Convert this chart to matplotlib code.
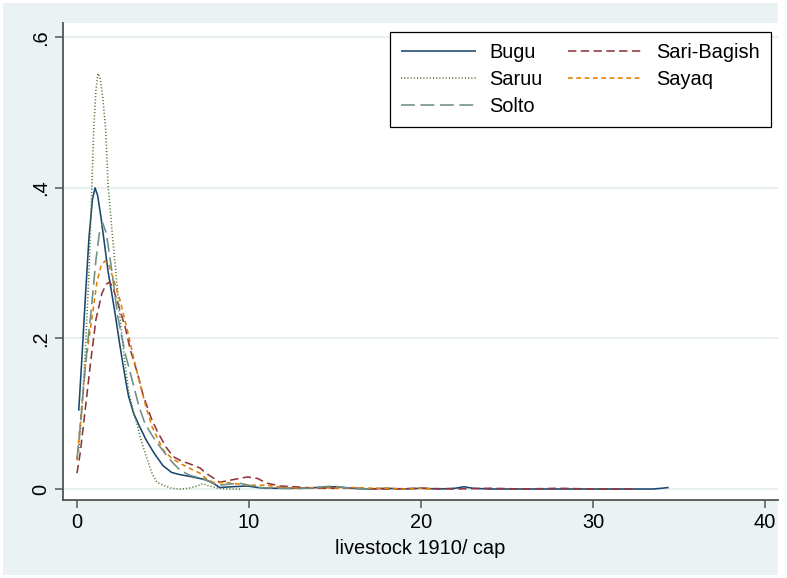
import matplotlib
matplotlib.use("Agg")
import matplotlib.pyplot as plt
from matplotlib.ticker import FixedLocator

plt.rcParams['font.family'] = ['Liberation Sans', 'DejaVu Sans']
plt.rcParams['lines.scale_dashes'] = False

# Kernel density estimates of livestock per capita (1910), by tribe
bugu_x = [0.1, 0.3, 0.5, 0.7, 0.9, 1.05, 1.2, 1.4, 1.6, 1.8, 2.0, 2.2, 2.5, 2.8, 3.0, 3.3,
          3.6, 4.0, 4.5, 5.0, 5.5, 6.0, 6.5, 7.15, 7.5, 7.9, 8.3, 9.0, 9.9, 10.5, 11, 12,
          13, 14, 15, 16, 17, 18, 19, 20, 21, 22, 22.5, 23, 24, 26, 28, 30, 32, 33.5, 34.0, 34.4]
bugu_y = [0.104, 0.18, 0.26, 0.335, 0.385, 0.40, 0.39, 0.36, 0.325, 0.29, 0.263, 0.235, 0.19,
          0.148, 0.123, 0.10, 0.085, 0.066, 0.047, 0.031, 0.022, 0.019, 0.017, 0.014, 0.012,
          0.008, 0.002, 0.003, 0.004, 0.002, 0.001, 0.001, 0.001, 0.002, 0.003, 0.001, 0.000,
          0.001, 0.000, 0.001, 0.000, 0.001, 0.003, 0.001, 0.000, 0.000, 0.000, 0.000, 0.000,
          0.000, 0.001, 0.002]

sari_x = [0.0, 0.2, 0.4, 0.6, 0.8, 1.1, 1.45, 1.7, 1.9, 2.1, 2.4, 2.8, 3.1, 3.5, 3.84, 4.3,
          4.7, 5.2, 5.6, 6.0, 6.6, 7.15, 7.5, 8.3, 9.2, 9.9, 10.5, 11, 11.8, 12.6, 14, 16,
          18, 20, 22, 24, 26, 28, 30, 32.4]
sari_y = [0.021, 0.05, 0.09, 0.13, 0.17, 0.225, 0.26, 0.272, 0.275, 0.267, 0.245, 0.215,
          0.185, 0.155, 0.125, 0.095, 0.075, 0.055, 0.043, 0.038, 0.033, 0.028, 0.021, 0.009,
          0.013, 0.016, 0.014, 0.008, 0.004, 0.003, 0.001, 0.001, 0.000, 0.001, 0.000, 0.001,
          0.000, 0.001, 0.000, 0.000]

saruu_x = [0.1, 0.3, 0.5, 0.7, 0.87, 0.97, 1.1, 1.22, 1.35, 1.5, 1.67, 1.8, 2.03, 2.25, 2.5,
           2.75, 3.0, 3.25, 3.5, 3.75, 4.0, 4.36, 4.65, 5.0, 5.5, 6.0, 6.5, 7.0, 7.3, 7.7,
           8.2, 8.8, 9.5]
saruu_y = [0.05, 0.11, 0.19, 0.29, 0.406, 0.477, 0.53, 0.552, 0.545, 0.52, 0.477, 0.406,
           0.344, 0.29, 0.228, 0.175, 0.13, 0.105, 0.085, 0.063, 0.045, 0.021, 0.009, 0.005,
           0.001, 0.000, 0.001, 0.004, 0.007, 0.004, 0.001, 0.0, 0.0]

sayaq_x = [0.0, 0.2, 0.47, 0.7, 0.9, 1.16, 1.4, 1.63, 1.85, 2.1, 2.5, 2.97, 3.3, 3.66, 4.0,
           4.36, 5.0, 5.5, 6.0, 6.5, 7.15, 7.5, 7.9, 8.9, 9.9, 11, 12, 13, 14, 15, 16, 17,
           18, 19, 20, 20.7]
sayaq_y = [0.038, 0.09, 0.162, 0.20, 0.232, 0.275, 0.297, 0.303, 0.298, 0.28, 0.251, 0.207,
           0.173, 0.14, 0.11, 0.083, 0.052, 0.041, 0.034, 0.028, 0.021, 0.014, 0.009, 0.008,
           0.005, 0.005, 0.002, 0.001, 0.002, 0.001, 0.002, 0.001, 0.001, 0.000, 0.001, 0.000]

solto_x = [0.0, 0.2, 0.4, 0.6, 0.81, 1.1, 1.3, 1.5, 1.7, 1.9, 2.1, 2.38, 2.8, 3.26, 3.6, 3.95,
           4.4, 4.83, 5.2, 5.6, 6.0, 6.57, 7.3, 7.7, 8.1, 8.7, 9.4, 10, 10.6, 11.5, 12.5, 13.5,
           14.3, 14.9, 15.5, 16.2, 17]
solto_y = [0.04, 0.085, 0.14, 0.19, 0.234, 0.304, 0.34, 0.353, 0.34, 0.31, 0.277, 0.228, 0.18,
           0.14, 0.11, 0.087, 0.07, 0.056, 0.045, 0.034, 0.025, 0.018, 0.014, 0.01, 0.005,
           0.006, 0.008, 0.005, 0.002, 0.001, 0.0005, 0.001, 0.003, 0.004, 0.002, 0.0005, 0.0]

x_ticks = [0, 10, 20, 30, 40]
y_ticks = [0, 0.2, 0.4, 0.6]
y_tick_labels = ['0', '.2', '.4', '.6']

BG = '#EAF2F3'
GRID = '#E3ECEE'
FS = 14.4

fig = plt.figure(figsize=(7.87, 5.78), dpi=100)
fig.patch.set_facecolor('white')

# outer graph region
bg_ax = fig.add_axes([3 / 787, 1 - 575 / 578, 775 / 787, 572 / 578], zorder=0)
bg_ax.set_facecolor(BG)
bg_ax.set_xticks([])
bg_ax.set_yticks([])
for s in bg_ax.spines.values():
    s.set_visible(False)

ax = fig.add_axes([63 / 787, 1 - 500 / 578, 715 / 787, 477 / 578], zorder=1)
ax.set_facecolor('white')
ax.set_xlim(-0.814, 40.76)
ax.set_ylim(-0.0146, 0.619)

for y in y_ticks:
    ax.axhline(y, color=GRID, lw=1.2, zorder=1)

lw = 1.15
series = [
    ('Bugu', bugu_x, bugu_y, '#1A476F', (0, ())),
    ('Sari-Bagish', sari_x, sari_y, '#90353B', (0, (6.0, 3.2))),
    ('Saruu', saruu_x, saruu_y, '#55752F', (0, (0.8, 1.5))),
    ('Sayaq', sayaq_x, sayaq_y, '#E37E00', (0, (3.4, 2.6))),
    ('Solto', solto_x, solto_y, '#6E8E84', (0, (10.0, 4.0))),
]
handles = {}
for i, (name, xs, ys, col, ls) in enumerate(series):
    (h,) = ax.plot(xs, ys, color=col, lw=lw, linestyle=ls, zorder=3 + i, label=name)
    handles[name] = h

for side in ('top', 'right'):
    ax.spines[side].set_visible(False)
for side in ('left', 'bottom'):
    ax.spines[side].set_color('#555555')
    ax.spines[side].set_linewidth(1.3)

ax.xaxis.set_major_locator(FixedLocator(x_ticks))
ax.set_xticklabels([str(v) for v in x_ticks])
ax.yaxis.set_major_locator(FixedLocator(y_ticks))
ax.set_yticklabels(y_tick_labels, rotation=90, va='center')
ax.tick_params(axis='both', direction='out', length=5.5, width=1.1, color='#555555',
               labelsize=FS, labelcolor='black', pad=4)

ax.set_xlabel('livestock 1910/ cap', fontsize=FS, labelpad=5)

order = ['Bugu', 'Saruu', 'Solto', 'Sari-Bagish', 'Sayaq']
leg = ax.legend([handles[n] for n in order], order, ncol=2, fontsize=FS,
                loc='upper right', bbox_to_anchor=(771 / 787, 1 - 32 / 578),
                bbox_transform=fig.transFigure, borderaxespad=0,
                frameon=True, fancybox=False, edgecolor='black', facecolor='white',
                framealpha=1, handlelength=3.75, handletextpad=0.65, columnspacing=1.3,
                labelspacing=0.4, borderpad=0.55)
leg.get_frame().set_linewidth(0.9)

fig.savefig('out.png', dpi=100, facecolor=fig.get_facecolor())
